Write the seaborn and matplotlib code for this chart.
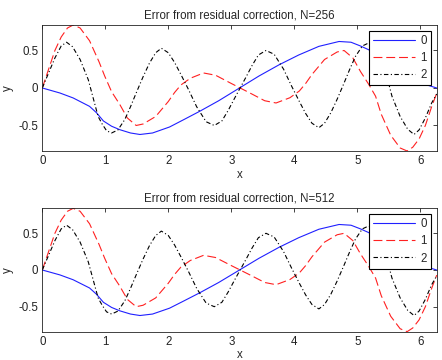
import numpy as np
import pandas as pd
import matplotlib
matplotlib.use("Agg")
import matplotlib.pyplot as plt
import seaborn as sns

# --- values (both panels look the same) ---
x_blue = [0.0, 0.28, 0.49, 0.75, 0.86, 0.97, 1.1, 1.23, 1.4, 1.55, 1.75, 2.02, 2.25,
          2.5, 2.8, 3.13, 3.44, 3.76, 4.07, 4.39, 4.71, 4.9, 5.05, 5.18, 5.31, 5.42,
          5.53, 5.79, 6.0, 6.26]
y_blue = [0.0, -0.067, -0.133, -0.245, -0.33, -0.44, -0.51, -0.556, -0.60, -0.62, -0.60,
          -0.52, -0.42, -0.31, -0.17, 0.0, 0.16, 0.31, 0.44, 0.555, 0.62, 0.61, 0.56, 0.51,
          0.44, 0.33, 0.245, 0.133, 0.067, 0.0]

x_red = [0.0, 0.1, 0.2, 0.3, 0.4, 0.49, 0.6, 0.75, 0.9, 0.99, 1.1, 1.23, 1.35, 1.49,
         1.6, 1.8, 2.0, 2.1, 2.2, 2.35, 2.56, 2.75, 3.0, 3.14, 3.28, 3.53, 3.71, 3.93,
         4.08, 4.18, 4.28, 4.48, 4.68, 4.79, 4.93, 5.05, 5.18, 5.29, 5.38, 5.53, 5.68,
         5.79, 5.88, 5.98, 6.08, 6.18, 6.26]
y_red = [0.0, 0.25, 0.5, 0.68, 0.80, 0.84, 0.80, 0.63, 0.35, 0.16, -0.05, -0.22, -0.40,
         -0.50, -0.48, -0.38, -0.18, -0.06, 0.04, 0.13, 0.20, 0.17, 0.06, 0.0, -0.06,
         -0.17, -0.20, -0.13, -0.04, 0.06, 0.18, 0.38, 0.48, 0.50, 0.40, 0.22, 0.05,
         -0.11, -0.35, -0.63, -0.80, -0.84, -0.79, -0.68, -0.50, -0.25, -0.07]

x_black = [0.0, 0.1, 0.2, 0.3, 0.385, 0.48, 0.6, 0.73, 0.886, 0.95, 1.02, 1.1, 1.2,
           1.31, 1.4, 1.49, 1.6, 1.7, 1.8, 1.89, 2.0, 2.1, 2.2, 2.32, 2.45, 2.6, 2.73,
           2.85, 2.95, 3.05, 3.14, 3.23, 3.33, 3.43, 3.55, 3.68, 3.83, 3.96, 4.08, 4.18,
           4.28, 4.39, 4.48, 4.58, 4.68, 4.79, 4.88, 4.97, 5.08, 5.18, 5.26, 5.33, 5.4,
           5.55, 5.68, 5.8, 5.9, 5.98, 6.08, 6.18, 6.26]
y_black = [0.0, 0.2, 0.4, 0.56, 0.61, 0.55, 0.38, 0.11, -0.38, -0.48, -0.57, -0.60,
           -0.56, -0.42, -0.25, -0.067, 0.15, 0.33, 0.47, 0.53, 0.47, 0.34, 0.18, -0.02,
           -0.25, -0.45, -0.50, -0.44, -0.30, -0.14, 0.0, 0.14, 0.30, 0.44, 0.50, 0.45,
           0.25, 0.02, -0.18, -0.34, -0.47, -0.53, -0.47, -0.33, -0.15, 0.067, 0.25,
           0.42, 0.56, 0.60, 0.57, 0.48, 0.38, -0.11, -0.38, -0.55, -0.62, -0.56, -0.40,
           -0.20, -0.08]

titles = ["Error from residual correction, N=256", "Error from residual correction, N=512"]
labels = ["0", "1", "2"]

sns.set_style("white")
plt.rcParams['font.family'] = ['Liberation Sans', 'DejaVu Sans']

fig = plt.figure(figsize=(4.42, 3.6), dpi=100)
ax_top = fig.add_axes([0.0957, 0.5806, 0.8923, 0.35])
ax_bot = fig.add_axes([0.0957, 0.0787, 0.8923, 0.3426])

series = [(x_blue, y_blue, "#2020ff", "-"),
          (x_red, y_red, "#ff2020", (0, (8, 3.5))),
          (x_black, y_black, "#000000", (0, (4, 2.2, 1, 2.2)))]

all_y = y_blue + y_red + y_black
all_x = x_blue + x_red + x_black

for ax, title in zip([ax_top, ax_bot], titles):
    for (xs, ys, col, ls), lab in zip(series, labels):
        df = pd.DataFrame({"x": xs, "y": ys})
        sns.lineplot(data=df, x="x", y="y", ax=ax, color=col, linestyle=ls,
                     linewidth=0.8, label=lab, sort=False, estimator=None)
    ax.set_xlim(min(all_x), max(all_x))
    ax.set_ylim(min(all_y), max(all_y))
    ax.set_xticks([0, 1, 2, 3, 4, 5, 6])
    ax.set_yticks([-0.5, 0, 0.5])
    ax.set_yticklabels(["-0.5", "0", "0.5"])
    ax.tick_params(direction="in", top=True, right=True, length=3, width=0.6,
                   labelsize=8.3, pad=3, colors="#222222")
    for sp in ax.spines.values():
        sp.set_color("#222222")
        sp.set_linewidth(0.6)
    ax.set_title(title, fontsize=8.3, pad=5)
    ax.set_xlabel("x", fontsize=8.3, labelpad=1)
    ax.set_ylabel("y", fontsize=8.3, labelpad=3)
    leg = ax.legend(loc="upper right", fontsize=8.3, frameon=True, fancybox=False,
                    handlelength=3.6, handletextpad=0.5, borderpad=0.35,
                    labelspacing=0.45, borderaxespad=0.5)
    leg.get_frame().set_edgecolor("black")
    leg.get_frame().set_linewidth(0.8)
    leg.get_frame().set_alpha(1.0)

fig.savefig("out.png", dpi=100)
